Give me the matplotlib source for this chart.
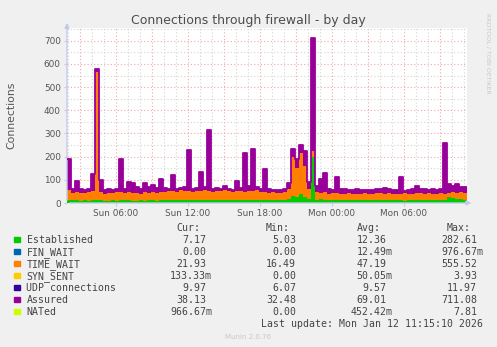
import matplotlib.pyplot as plt
from matplotlib.patches import Rectangle
import numpy as np

W, H = 497, 347

# samples every 20 min, starting Sun 01:55 (hours since Sun 00:00)
t_start = 1 + 55 / 60

established = [12, 11, 12, 10, 11, 10, 12, 14, 11, 10, 10, 11, 10, 12, 11, 11, 10, 10, 11, 10,
               12, 11, 10, 11, 12, 13, 12, 13, 14, 13, 14, 13, 12, 14, 13, 14, 13, 12, 13, 14,
               13, 12, 13, 12, 14, 13, 14, 13, 12, 13, 12, 13, 12, 14, 13, 16, 30, 25, 40, 28,
               18, 200, 14, 18, 15, 13, 12, 14, 13, 12, 13, 12, 11, 12, 11, 12, 11, 12, 13, 11,
               12, 11, 12, 11, 10, 11, 12, 11, 12, 13, 12, 11, 14, 12, 13, 26, 22, 16, 18, 14]
time_wait = [46, 34, 36, 32, 33, 36, 38, 551, 37, 30, 32, 33, 36, 36, 31, 35, 34, 35, 29, 36,
             32, 37, 32, 35, 36, 37, 40, 35, 40, 39, 36, 35, 40, 36, 41, 38, 35, 38, 39, 40,
             37, 36, 39, 38, 34, 39, 36, 41, 36, 33, 32, 33, 30, 31, 35, 46, 170, 125, 175, 132,
             42, 25, 32, 26, 33, 27, 30, 30, 27, 26, 29, 28, 27, 28, 31, 26, 29, 30, 31, 29,
             30, 29, 26, 29, 32, 27, 28, 31, 32, 27, 30, 29, 24, 30, 27, 18, 26, 29, 28, 30]
assured = [190, 62, 95, 62, 58, 62, 125, 580, 100, 55, 60, 58, 62, 188, 60, 92, 85, 68, 60, 85,
           70, 78, 65, 102, 65, 62, 120, 62, 65, 68, 228, 62, 65, 135, 70, 315, 62, 63, 62, 75,
           60, 58, 95, 65, 215, 75, 235, 70, 62, 148, 60, 55, 57, 55, 62, 85, 235, 190, 250, 225,
           90, 711, 75, 105, 130, 62, 58, 112, 62, 60, 58, 55, 60, 57, 55, 55, 58, 62, 60, 63,
           60, 58, 55, 112, 52, 55, 62, 75, 62, 60, 58, 62, 55, 60, 258, 80, 72, 82, 70, 68]

tick_hours = [6, 12, 18, 24, 30]
tick_labels = ["Sun 06:00", "Sun 12:00", "Sun 18:00", "Mon 00:00", "Mon 06:00"]

names = ["Established", "FIN_WAIT", "TIME_WAIT", "SYN_SENT", "UDP connections", "Assured", "NATed"]
colors = ["#00cc00", "#0066b3", "#ff8000", "#ffcc00", "#330099", "#990099", "#ccff00"]
cur = ["7.17", "0.00", "21.93", "133.33m", "9.97", "38.13", "966.67m"]
mins = ["5.03", "0.00", "16.49", "0.00", "6.07", "32.48", "0.00"]
avgs = ["12.36", "12.49m", "47.19", "50.05m", "9.57", "69.01", "452.42m"]
maxs = ["282.61", "976.67m", "555.52", "3.93", "11.97", "711.08", "7.81"]

est = np.array(established, dtype=float)
tw_top = est + np.array(time_wait, dtype=float)
ass = np.array(assured, dtype=float)
n = len(est)
edges = t_start + np.arange(n + 1) / 3.0


def ext(a):
    return np.append(a, a[-1])


def fx(x):
    return x / W


def fy(y):
    return 1 - y / H


fig = plt.figure(figsize=(W / 100, H / 100), dpi=100, facecolor="#f0f0f0")
ax = fig.add_axes([fx(67), fy(203), 400 / W, 175 / H])
ax.set_facecolor("white")
ax.set_xlim(edges[0], edges[-1])
ax.set_ylim(0, 755)

# grid, drawn behind the data
for h in range(2, 36):
    major = h % 3 == 0
    ax.axvline(h, color="#f0a8a8" if major else "#d4d4d4", lw=0.8,
               linestyle=(0, (1, 2)), zorder=0)
for v in range(50, 751, 50):
    major = v % 100 == 0
    ax.axhline(v, color="#f0a8a8" if major else "#d4d4d4", lw=0.8,
               linestyle=(0, (1, 2)), zorder=0)

ax.fill_between(edges, 0, ext(est), step="post", color=colors[0], lw=0, zorder=2)
ax.fill_between(edges, ext(est), ext(tw_top), step="post", color=colors[2], lw=0, zorder=2)
ax.fill_between(edges, ext(tw_top), ext(np.maximum(ass, tw_top)), step="post",
                color=colors[5], lw=0, zorder=3)
ax.step(edges, ext(ass), where="post", color=colors[5], lw=1.3, zorder=4)

for s in ax.spines.values():
    s.set_visible(False)
axis_col = "#c4cae8"
ax.annotate("", xy=(0, 1.045), xytext=(0, 0), xycoords="axes fraction",
            arrowprops=dict(arrowstyle="-|>", color=axis_col, lw=1, mutation_scale=7))
ax.annotate("", xy=(1.018, 0), xytext=(0, 0), xycoords="axes fraction",
            arrowprops=dict(arrowstyle="-|>", color=axis_col, lw=1, mutation_scale=7))

ax.set_yticks(range(0, 701, 100))
ax.set_xticks(tick_hours)
ax.set_xticklabels(tick_labels)
ax.tick_params(length=2, color=axis_col, labelsize=6.4, labelcolor="#555555", pad=2.5)

fig.text(fx(248.5), fy(24), "Connections through firewall - by day", ha="center",
         va="baseline", fontsize=9, color="#4d4d4d")
fig.text(fx(11), fy(115), "Connections", rotation=90, ha="center", va="center",
         fontsize=7.8, color="#555555")
fig.text(fx(487.5), fy(53.5), "RRDTOOL / TOBI OETIKER", rotation=270, ha="center",
         va="center", fontsize=4.5, color="#c8c8c8")

# legend table
mono = dict(family="DejaVu Sans Mono", fontsize=7.1, color="#444444", va="baseline")
cw = 5.96
col_end = [212, 302, 392.5, 483]
for head, ce in zip(["Cur:", "Min:", "Avg:", "Max:"], col_end):
    fig.text(fx(ce - 2 * cw), fy(230.9), head, ha="right", **mono)
for i, name in enumerate(names):
    yc = 239.3 + 12.05 * i
    fig.patches.append(Rectangle((fx(14), fy(yc + 2.7)), 5.5 / W, 5.5 / H,
                                 transform=fig.transFigure, color=colors[i]))
    fig.text(fx(26.5), fy(yc + 3.6), name, ha="left", **mono)
    for vals, ce in zip([cur, mins, avgs, maxs], col_end):
        s = vals[i]
        xr = ce if s.endswith("m") else ce - cw
        fig.text(fx(xr), fy(yc + 3.6), s, ha="right", **mono)
fig.text(fx(483), fy(327.3), "Last update: Mon Jan 12 11:15:10 2026", ha="right", **mono)
fig.text(fx(248), fy(337), "Munin 2.0.76", ha="center", va="center", fontsize=5,
         color="#c8c8c8")

fig.savefig("out.png", dpi=100, facecolor=fig.get_facecolor())
